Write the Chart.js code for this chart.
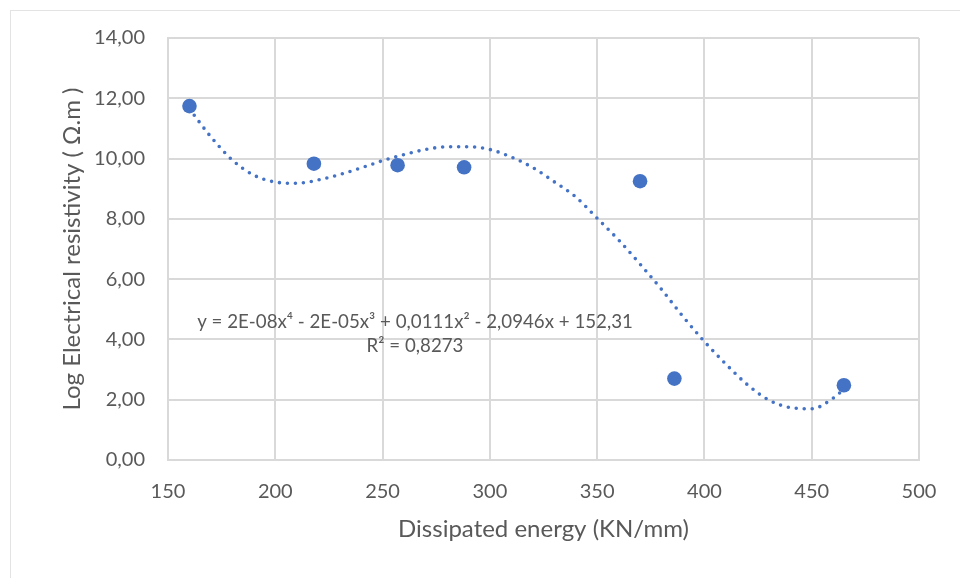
<!DOCTYPE html>
<html>
<head>
<meta charset="utf-8">
<script src="https://cdn.jsdelivr.net/npm/chart.js@4.4.1/dist/chart.umd.min.js"></script>
<style>
  html, body { margin: 0; padding: 0; background: #fff; }
  #wrap { width: 960px; height: 578px; position: relative; }
</style>
</head>
<body>
<div id="wrap"><canvas id="scatterChart"></canvas></div>
<script>
// measured points
const energy = [160, 218, 257, 288, 370, 386, 465];
const resistivity = [11.74, 9.83, 9.78, 9.71, 9.25, 2.70, 2.48];

// trendline
const trendX = [160, 170, 180, 190, 200, 210, 220, 230, 240, 250, 260, 270, 280, 290, 300, 310, 320,
  330, 340, 350, 360, 370, 380, 390, 400, 410, 420, 430, 440, 450, 460, 465];
const trendY = [11.65, 10.72, 9.95, 9.45, 9.22, 9.18, 9.29, 9.47, 9.69, 9.93, 10.13, 10.30, 10.39, 10.39, 10.30, 10.05, 9.70,
  9.23, 8.73, 8.02, 7.30, 6.50, 5.66, 4.76, 3.93, 3.18, 2.50, 1.99, 1.74, 1.70, 2.05, 2.35];

const yTickLabels = ['0,00', '2,00', '4,00', '6,00', '8,00', '10,00', '12,00', '14,00'];
const equation = ['y = 2E-08x\u2074 - 2E-05x\u00b3 + 0,0111x\u00b2 - 2,0946x + 152,31', 'R\u00b2 = 0,8273'];

const blue = '#4472c4';
const grid = '#d9d9d9';
const txt = '#595959';
const font = 'Lato';

// faint outer frame + trendline label
const extras = {
  id: 'extras',
  beforeDraw(chart) {
    const c = chart.ctx;
    c.save();
    c.strokeStyle = '#e3e3e3';
    c.lineWidth = 1;
    c.strokeRect(10.5, 10.5, 980, 600);
    c.restore();
  },
  afterDatasetsDraw(chart) {
    const c = chart.ctx;
    c.save();
    c.fillStyle = txt;
    c.font = '18.7px ' + font;
    c.textAlign = 'center';
    c.textBaseline = 'middle';
    c.fillText(equation[0], 415, 322);
    c.fillText(equation[1], 415, 346);
    c.restore();
  }
};

new Chart(document.getElementById('scatterChart'), {
  type: 'scatter',
  data: {
    datasets: [{
      label: 'Trend',
      data: trendX.map((x, i) => ({x: x, y: trendY[i]})),
      showLine: true,
      cubicInterpolationMode: 'monotone',
      borderColor: blue,
      borderWidth: 3.6,
      borderDash: [0, 8],
      borderCapStyle: 'round',
      pointRadius: 0,
      order: 0
    }, {
      label: 'Data',
      data: energy.map((x, i) => ({x: x, y: resistivity[i]})),
      backgroundColor: blue,
      borderWidth: 0,
      pointRadius: 7.3,
      order: 1
    }]
  },
  options: {
    responsive: true,
    maintainAspectRatio: false,
    animation: false,
    layout: { padding: { top: 38, right: 41, bottom: 0, left: 0 } },
    plugins: {
      legend: { display: false },
      tooltip: { enabled: false }
    },
    scales: {
      x: {
        type: 'linear',
        min: 150, max: 500,
        afterFit: (s) => { s.height = 118; },
        ticks: { stepSize: 50, padding: 20, color: txt, font: { family: font, size: 20 } },
        grid: { color: grid, lineWidth: 2, drawTicks: false },
        border: { color: grid, width: 2 },
        title: { display: true, text: 'Dissipated energy (KN/mm)', color: txt,
          font: { family: font, size: 24 }, padding: { top: 0, bottom: 34 } }
      },
      y: {
        min: 0, max: 14,
        afterFit: (s) => { s.width = 168; },
        ticks: { stepSize: 2, padding: 23, color: txt, font: { family: font, size: 20 },
          callback: (v) => yTickLabels[v / 2] },
        grid: { color: grid, lineWidth: 2, drawTicks: false },
        border: { color: grid, width: 2 },
        title: { display: true, text: 'Log Electrical resistivity ( \u03a9.m )', color: txt,
          font: { family: font, size: 24 }, padding: { top: 58, bottom: 0 } }
      }
    }
  },
  plugins: [extras]
});
</script>
</body>
</html>
